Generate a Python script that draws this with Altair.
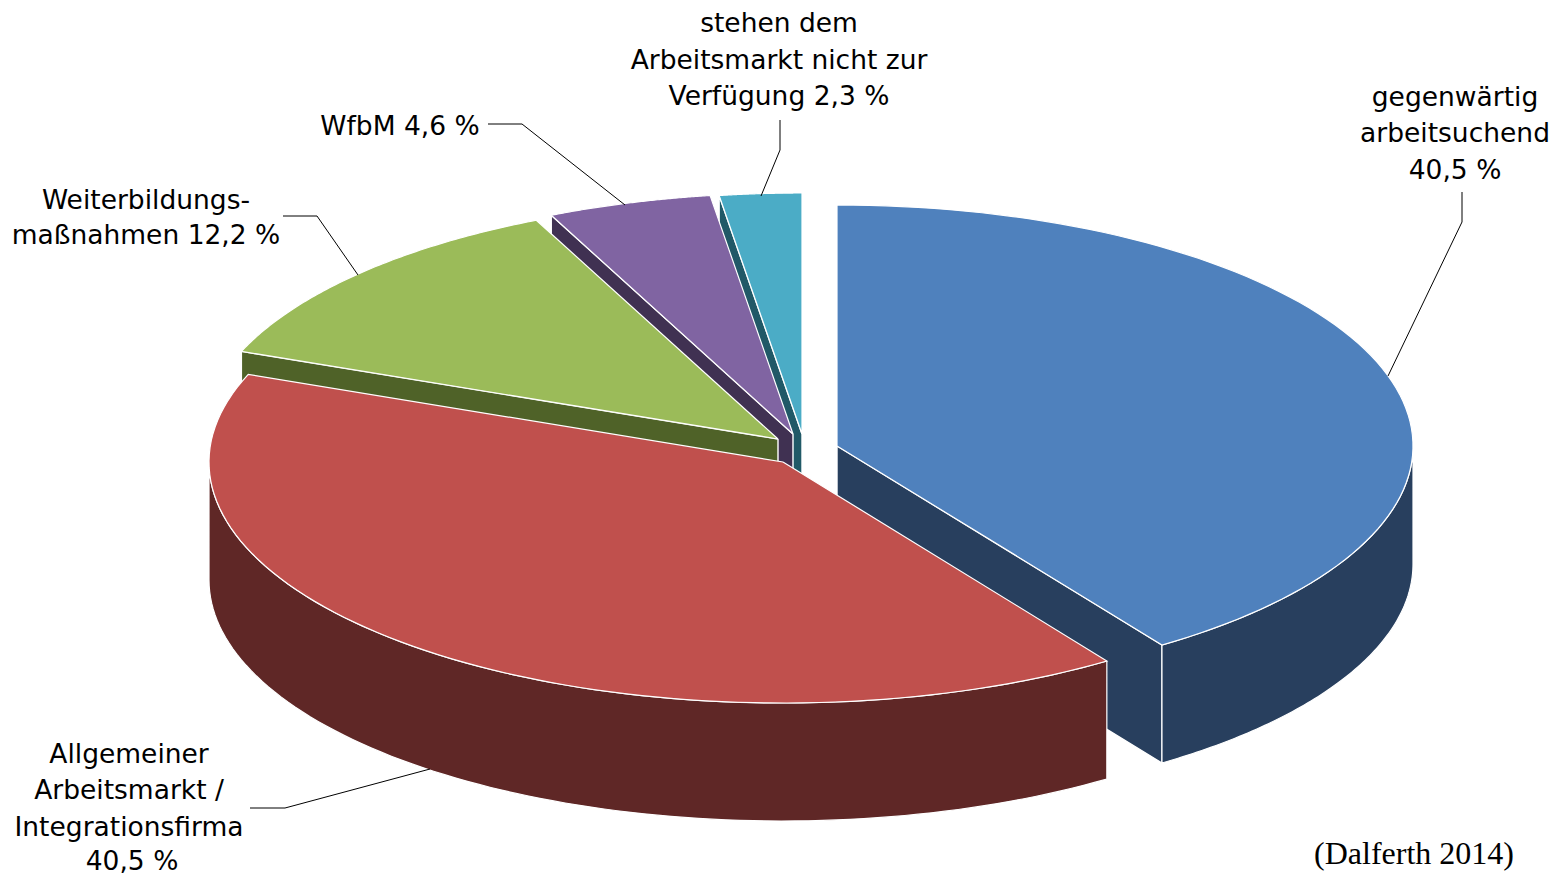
import math
import altair as alt
import pandas as pd

# Chart values
categories = ["gegenwärtig arbeitsuchend", "Allgemeiner Arbeitsmarkt / Integrationsfirma",
              "Weiterbildungsmaßnahmen", "WfbM", "stehen dem Arbeitsmarkt nicht zur Verfügung"]
shares = [40.5, 40.5, 12.2, 4.6, 2.3]
top_colors = ["#4F81BD", "#C0504D", "#9BBB59", "#8064A2", "#4BACC6"]
wall_colors = ["#283F5E", "#5F2726", "#4F6228", "#403152", "#215967"]
# exploded centre of each slice in page pixels
centres_x = [837, 783, 778, 793, 802]
centres_y = [446, 462, 439, 434, 434]
radii_x = [576, 574, 576, 576, 576]

label_text = ["stehen dem", "Arbeitsmarkt nicht zur", "Verfügung 2,3 %",
              "gegenwärtig", "arbeitsuchend", "40,5 %",
              "Weiterbildungs-", "maßnahmen 12,2 %", "WfbM 4,6 %",
              "Allgemeiner", "Arbeitsmarkt /", "Integrationsfirma", "40,5 %"]
label_x = [779, 779, 779, 1455, 1455, 1455, 146, 146, 400, 129, 129, 129, 132]
label_y = [24, 61, 97, 98, 134, 171, 201, 236, 127, 755, 791, 828, 862]

leaders = [
    [(1462, 192), (1462, 222), (1388, 376)],
    [(488, 124), (522, 124), (625, 205)],
    [(283, 216), (317, 216), (358, 275)],
    [(780, 120), (780, 150), (761, 196)],
    [(250, 808), (285, 808), (430, 769)],
]

B, DEPTH = 241, 118
W, H = 1543, 867
X = alt.X("x:Q", scale=alt.Scale(domain=[8, 8 + W], nice=False, zero=False), axis=None)
Y = alt.Y("y:Q", scale=alt.Scale(domain=[8 + H, 8], nice=False, zero=False), axis=None)
ORDER = alt.Order("i:Q")


def poly(points, fill, stroke="#FFFFFF", width=1.2):
    pts = list(points) + [points[0]]
    df = pd.DataFrame({"x": [p[0] for p in pts], "y": [p[1] for p in pts], "i": range(len(pts))})
    return alt.Chart(df).mark_line(fill=fill, stroke=stroke, strokeWidth=width, strokeJoin="miter",
                                   interpolate="linear", clip=False).encode(x=X, y=Y, order=ORDER)


def rim(idx, t0, t1, dy=0, n=90):
    out = []
    for k in range(n + 1):
        t = math.radians(t0 + (t1 - t0) * k / n)
        out.append((centres_x[idx] + radii_x[idx] * math.sin(t),
                    centres_y[idx] - B * math.cos(t) + dy))
    return out


total = sum(shares)
angles = [0]
for s in shares:
    angles.append(angles[-1] + s / total * 360)

# which cut face of each slice can be seen: its end (blue), its start (the small ones), none (red)
visible_face = [1, None, 0, 0, 0]

layers = []
for idx in [0, 4, 3, 2, 1]:
    cx, cy = centres_x[idx], centres_y[idx]
    t0, t1 = angles[idx], angles[idx + 1]
    if visible_face[idx] is not None:
        t = (t0, t1)[visible_face[idx]]
        p = rim(idx, t, t, n=1)[0]
        layers.append(poly([(cx, cy), p, (p[0], p[1] + DEPTH), (cx, cy + DEPTH)],
                           wall_colors[idx], width=1.4))
    # outer wall: only the part that faces the viewer
    w0, w1 = max(t0, 90), min(t1, 270)
    if w0 < w1:
        layers.append(poly(rim(idx, w0, w1) + rim(idx, w0, w1, DEPTH)[::-1],
                           wall_colors[idx], width=1.2))
    # top face
    layers.append(poly([(cx, cy)] + rim(idx, t0, t1), top_colors[idx]))

for seg in leaders:
    df = pd.DataFrame({"x": [p[0] for p in seg], "y": [p[1] for p in seg], "i": range(len(seg))})
    layers.append(alt.Chart(df).mark_line(color="#000000", strokeWidth=1).encode(x=X, y=Y, order=ORDER))

labels = pd.DataFrame({"x": label_x, "y": label_y, "t": label_text})
layers.append(alt.Chart(labels).mark_text(font="DejaVu Sans", fontSize=26.5, color="#000000",
                                          align="center", baseline="middle")
              .encode(x=X, y=Y, text="t:N"))
layers.append(alt.Chart(pd.DataFrame({"x": [1414], "y": [854], "t": ["(Dalferth 2014)"]}))
              .mark_text(font="Liberation Serif", fontSize=32, color="#000000",
                         align="center", baseline="middle")
              .encode(x=X, y=Y, text="t:N"))

chart = alt.layer(*layers).properties(
    width=W, height=H, padding=0, autosize=alt.AutoSizeParams(type="none"),
    background="#FFFFFF",
).configure_view(stroke=None)

chart.save("out.html", embed_options={"renderer": "svg", "actions": False})
